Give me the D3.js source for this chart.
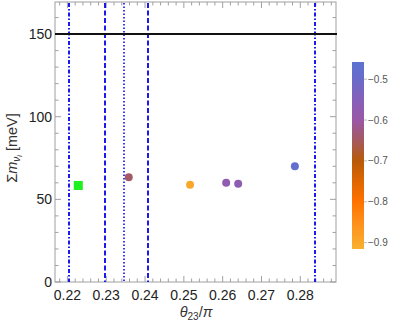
<!DOCTYPE html>
<html><head><meta charset="utf-8">
<script src="https://cdn.jsdelivr.net/npm/d3@7"></script>
<style>body{margin:0;background:#fff;} svg{display:block;font-family:"Liberation Sans",Arial,sans-serif;}</style>
</head><body>
<svg id="c" width="395" height="327"></svg>
<script>
// ---- data ----
const xTicks = [0.22, 0.23, 0.24, 0.25, 0.26, 0.27, 0.28];
const yTicks = [0, 50, 100, 150];
const pointTheta = [0.2358, 0.2516, 0.2609, 0.2640, 0.2786];
const pointSum = [63.4, 58.8, 60.0, 59.4, 70.0];
const pointColorVal = [-0.645, -0.9, -0.575, -0.57, -0.475];
const bestTheta = [0.2228];
const bestSum = [58.4];
const vLineTheta = [0.2203, 0.2296, 0.2345, 0.2407, 0.2838];
const vLineStyle = ["dashdot", "dashed", "dotted", "dashed", "dashdot"];
const limitSum = [150];
const cbTicks = [-0.5, -0.6, -0.7, -0.8, -0.9];
const cbStopVals = [-0.458, -0.5, -0.55, -0.6, -0.65, -0.7, -0.75, -0.8, -0.85, -0.9155];
const cbStopCols = ["#5d72d1", "#6a6bc9", "#8660ba", "#9a58a6", "#a4595f", "#b85a08", "#df6600", "#ff7300", "#fd8f1a", "#f9b030"];

// ---- layout ----
const L = 55, R = 336, T = 2, B = 282;
const svg = d3.select("#c");
const x = d3.scaleLinear().domain([0.2168, 0.2892]).range([L, R]);
const y = d3.scaleLinear().domain([0, 169.4]).range([B, T]);
const color = d3.scaleLinear().domain(cbStopVals).range(cbStopCols);

const frameCol = "#a0a0a0";
svg.append("rect").attr("x", L).attr("y", T).attr("width", R - L).attr("height", B - T)
  .attr("fill", "none").attr("stroke", frameCol).attr("stroke-width", 1);

// ticks
const xMinor = d3.range(0.218, 0.2892, 0.002);
const yMinor = d3.range(0, 170, 10);
const tg = svg.append("g").attr("stroke", frameCol).attr("stroke-width", 1);
xMinor.forEach(v => {
  const major = xTicks.some(t => Math.abs(t - v) < 1e-6);
  const len = major ? 6 : 3.5;
  tg.append("line").attr("x1", x(v)).attr("x2", x(v)).attr("y1", B).attr("y2", B - len);
  tg.append("line").attr("x1", x(v)).attr("x2", x(v)).attr("y1", T).attr("y2", T + len);
});
yMinor.forEach(v => {
  const major = yTicks.includes(v);
  const len = major ? 6 : 3.5;
  tg.append("line").attr("x1", L).attr("x2", L + len).attr("y1", y(v)).attr("y2", y(v));
  tg.append("line").attr("x1", R).attr("x2", R - len).attr("y1", y(v)).attr("y2", y(v));
});

// tick labels
svg.append("g").selectAll("text").data(xTicks).join("text")
  .attr("x", d => x(d)).attr("y", B + 18).attr("text-anchor", "middle")
  .attr("font-size", 14).attr("fill", "#222").text(d => d.toFixed(2));
svg.append("g").selectAll("text").data(yTicks).join("text")
  .attr("x", L - 3).attr("y", d => y(d) + 5).attr("text-anchor", "end")
  .attr("font-size", 14).attr("fill", "#222").text(d => d);

// axis labels
const xl = svg.append("text").attr("x", 196).attr("y", 317).attr("text-anchor", "middle")
  .attr("font-size", 14.5).attr("fill", "#333");
xl.append("tspan").attr("font-style", "italic").text("θ");
xl.append("tspan").attr("font-size", 10).attr("dy", 3).text("23");
xl.append("tspan").attr("dy", -3).text("/");
xl.append("tspan").attr("font-style", "italic").text("π");

const yl = svg.append("text").attr("transform", "translate(17,148) rotate(-90)")
  .attr("text-anchor", "middle").attr("font-size", 14.5).attr("fill", "#333");
yl.append("tspan").text("Σ");
yl.append("tspan").attr("font-style", "italic").text("m");
yl.append("tspan").attr("font-style", "italic").attr("font-size", 10).attr("dy", 3).text("ν");
yl.append("tspan").attr("font-style", "italic").attr("font-size", 7).attr("dy", 2).text("i");
yl.append("tspan").attr("dy", -5).text(" [meV]");

// vertical lines
const dashes = { dashdot: "4,2,1.5,2", dashed: "5,2.5", dotted: "1.5,2" };
svg.append("g").selectAll("line").data(vLineTheta).join("line")
  .attr("x1", d => Math.round(x(d))).attr("x2", d => Math.round(x(d))).attr("y1", T + 1).attr("y2", B)
  .attr("stroke", (d, i) => vLineStyle[i] === "dotted" ? "#3a3af8" : "#1a1aee")
  .attr("stroke-width", 2)
  .attr("stroke-dasharray", (d, i) => dashes[vLineStyle[i]]);

// horizontal limit line
svg.append("g").selectAll("line").data(limitSum).join("line")
  .attr("x1", L).attr("x2", R + 1).attr("y1", d => y(d)).attr("y2", d => y(d))
  .attr("stroke", "#111").attr("stroke-width", 2);

// points
svg.append("g").selectAll("circle").data(pointTheta).join("circle")
  .attr("cx", d => x(d)).attr("cy", (d, i) => y(pointSum[i])).attr("r", 4)
  .attr("fill", (d, i) => color(pointColorVal[i]));
svg.append("g").selectAll("rect").data(bestTheta).join("rect")
  .attr("x", d => x(d) - 4.5).attr("y", (d, i) => y(bestSum[i]) - 4.5)
  .attr("width", 9).attr("height", 9).attr("fill", "#1ff01f");

// colorbar
const cbX = 352, cbW = 12, cbT = 62, cbB = 249;
const cy = d3.scaleLinear().domain([-0.458, -0.9155]).range([cbT, cbB]);
const grad = svg.append("defs").append("linearGradient").attr("id", "cbg")
  .attr("x1", 0).attr("y1", 0).attr("x2", 0).attr("y2", 1);
cbStopVals.forEach((v, i) => grad.append("stop")
  .attr("offset", (cy(v) - cbT) / (cbB - cbT)).attr("stop-color", cbStopCols[i]));
svg.append("rect").attr("x", cbX).attr("y", cbT).attr("width", cbW).attr("height", cbB - cbT)
  .attr("fill", "url(#cbg)");
svg.append("g").selectAll("line").data(cbTicks).join("line")
  .attr("x1", cbX + cbW).attr("x2", cbX + cbW + 3).attr("y1", d => cy(d)).attr("y2", d => cy(d))
  .attr("stroke", "#bbb").attr("stroke-width", 1);
svg.append("g").selectAll("text").data(cbTicks).join("text")
  .attr("x", cbX + cbW + 4).attr("y", d => cy(d) + 3.5).attr("font-size", 10).attr("fill", "#555")
  .text(d => "\u2212" + Math.abs(d).toFixed(1));
</script>
</body></html>
